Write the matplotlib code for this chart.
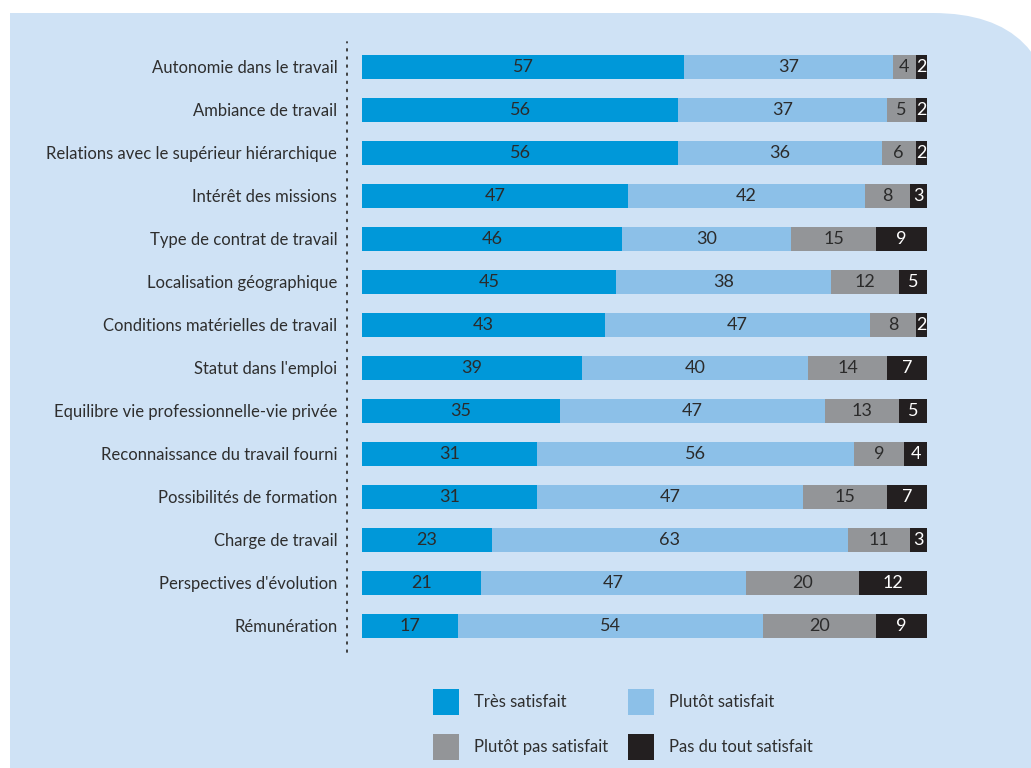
import matplotlib
matplotlib.use("Agg")
import matplotlib.pyplot as plt
from matplotlib.patches import FancyBboxPatch, Rectangle

plt.rcParams['font.family'] = ['Lato', 'DejaVu Sans']

# Données
categories = [
    "Autonomie dans le travail",
    "Ambiance de travail",
    "Relations avec le supérieur hiérarchique",
    "Intérêt des missions",
    "Type de contrat de travail",
    "Localisation géographique",
    "Conditions matérielles de travail",
    "Statut dans l'emploi",
    "Equilibre vie professionnelle-vie privée",
    "Reconnaissance du travail fourni",
    "Possibilités de formation",
    "Charge de travail",
    "Perspectives d'évolution",
    "Rémunération",
]
tres_satisfait = [57, 56, 56, 47, 46, 45, 43, 39, 35, 31, 31, 23, 21, 17]
plutot_satisfait = [37, 37, 36, 42, 30, 38, 47, 40, 47, 56, 47, 63, 47, 54]
plutot_pas = [4, 5, 6, 8, 15, 12, 8, 14, 13, 9, 15, 11, 20, 20]
pas_du_tout = [2, 2, 2, 3, 9, 5, 2, 7, 5, 4, 7, 3, 12, 9]
series_names = ["Très satisfait", "Plutôt satisfait", "Plutôt pas satisfait", "Pas du tout satisfait"]

colors = ["#0098d9", "#8cc0e8", "#939598", "#231f20"]
text_colors = ["#2b2b2b", "#2b2b2b", "#2b2b2b", "#ffffff"]
bg = "#cfe2f5"
txt = "#2e2e2e"

W, H = 1031, 768
fig = plt.figure(figsize=(W / 100, H / 100), dpi=100)
fig.patch.set_facecolor("white")

# panneau bleu, coin arrondi seulement en haut à droite (coords en pouces)
fig.add_artist(Rectangle((0.10, -1), 8.5, 8.55, transform=fig.dpi_scale_trans,
                         facecolor=bg, edgecolor="none", zorder=-5))
fig.add_artist(FancyBboxPatch((7.0, -2), 3.54, 9.55,
                              boxstyle="round,pad=0,rounding_size=1.21",
                              transform=fig.dpi_scale_trans,
                              facecolor=bg, edgecolor="none", zorder=-5))

# axes : spine gauche en pointillés à x=347 px, barres de 362 à 927 px
ax = fig.add_axes([347 / W, 1 - 652 / H, 580 / W, 610 / H])
ax.set_facecolor("none")
x0 = -15 / 5.65
ax.set_xlim(x0, 100)
ax.set_ylim(13.605, -0.581)

ypos = list(range(len(categories)))
data = [tres_satisfait, plutot_satisfait, plutot_pas, pas_du_tout]
left = [0] * len(categories)
bars = []
for vals, name, col, tcol in zip(data, series_names, colors, text_colors):
    b = ax.barh(ypos, vals, left=left, height=0.58, color=col, label=name, linewidth=0)
    bars.append(b)
    ax.bar_label(b, labels=[str(v) for v in vals], label_type="center",
                 color=tcol, fontsize=13)
    left = [l + v for l, v in zip(left, vals)]

ax.set_yticks(ypos)
ax.set_yticklabels(categories, fontsize=12, color=txt)
ax.tick_params(axis="y", length=0, pad=7)
ax.set_xticks([])
for s in ["top", "right", "bottom"]:
    ax.spines[s].set_visible(False)
ax.spines["left"].set_linestyle((0, (1, 3.5)))
ax.spines["left"].set_linewidth(1.3)
ax.spines["left"].set_color("#333333")
ax.spines["left"].set_capstyle("round")

# légende
handles = [bars[0], bars[2], bars[1], bars[3]]
labels = [series_names[0], series_names[2], series_names[1], series_names[3]]
fig.legend(handles, labels, ncol=2, loc="upper left",
           bbox_to_anchor=(418 / W, 1 - 674 / H), frameon=False,
           fontsize=12, handlelength=1.56, handleheight=2.02,
           handletextpad=0.9, columnspacing=1.2, labelspacing=1.14,
           labelcolor=txt)

fig.savefig("out.png", dpi=100, facecolor=fig.get_facecolor())
